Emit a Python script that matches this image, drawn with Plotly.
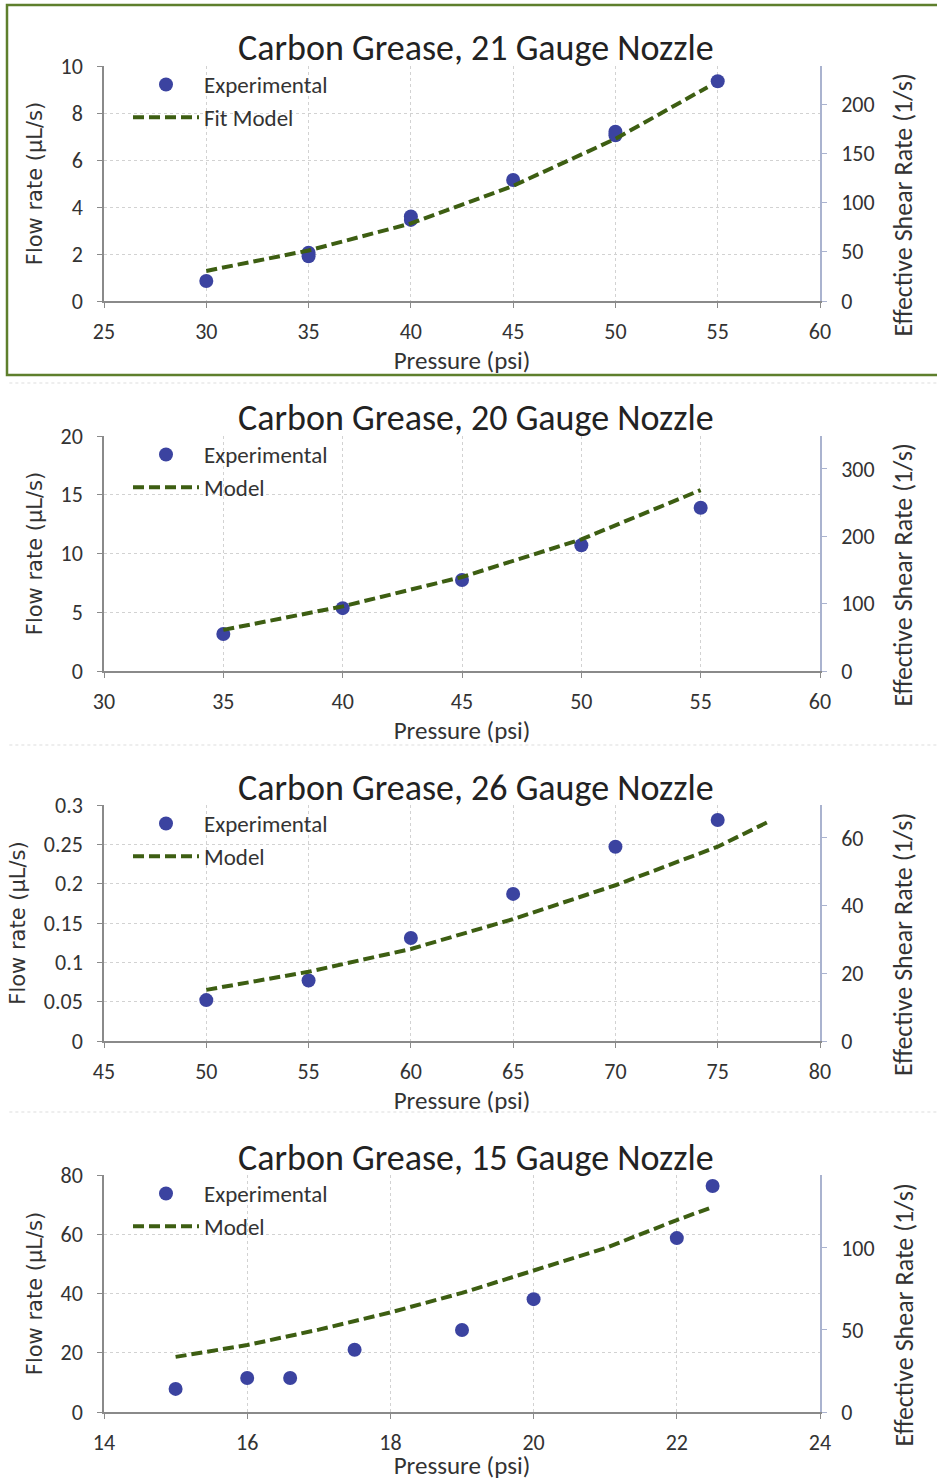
import plotly.graph_objects as go

# ---------------- data ----------------
titles = ["Carbon Grease, 21 Gauge Nozzle", "Carbon Grease, 20 Gauge Nozzle",
          "Carbon Grease, 26 Gauge Nozzle", "Carbon Grease, 15 Gauge Nozzle"]
model_names = ["Fit Model", "Model", "Model", "Model"]
right_title = "Effective Shear Rate (1/s)"

# Panel 1 (21 gauge)
p1_exp_x = [30, 35, 35, 40, 40, 45, 50, 50, 55]
p1_exp_y = [0.85, 2.05, 1.9, 3.6, 3.45, 5.15, 7.2, 7.05, 9.35]
p1_mod_x = [30, 35, 40, 45, 50, 54.5]
p1_mod_y = [1.28, 2.15, 3.3, 4.9, 6.9, 9.1]

# Panel 2 (20 gauge)
p2_exp_x = [35, 40, 45, 50, 55]
p2_exp_y = [3.15, 5.35, 7.75, 10.7, 13.9]
p2_mod_x = [35, 40, 45, 50, 55]
p2_mod_y = [3.5, 5.5, 8.0, 11.2, 15.4]

# Panel 3 (26 gauge)
p3_exp_x = [50, 55, 60, 65, 70, 75]
p3_exp_y = [0.052, 0.077, 0.131, 0.187, 0.247, 0.281]
p3_mod_x = [50, 55, 60, 65, 70, 75, 77.5]
p3_mod_y = [0.065, 0.088, 0.117, 0.155, 0.198, 0.247, 0.279]

# Panel 4 (15 gauge)
p4_exp_x = [15, 16, 16.6, 17.5, 19, 20, 22, 22.5]
p4_exp_y = [7.8, 11.5, 11.5, 21.0, 27.7, 38.1, 58.7, 76.3]
p4_mod_x = [15, 16, 17, 18, 19, 20, 21, 22, 22.5]
p4_mod_y = [18.6, 22.6, 27.8, 33.6, 40.2, 47.9, 55.3, 64.8, 69.2]

exp_x = [p1_exp_x, p2_exp_x, p3_exp_x, p4_exp_x]
exp_y = [p1_exp_y, p2_exp_y, p3_exp_y, p4_exp_y]
mod_x = [p1_mod_x, p2_mod_x, p3_mod_x, p4_mod_x]
mod_y = [p1_mod_y, p2_mod_y, p3_mod_y, p4_mod_y]

x_ranges = [[25, 60], [30, 60], [45, 80], [14, 24]]
x_dtick = [5, 5, 5, 2]
y_ranges = [[0, 10], [0, 20], [0, 0.3], [0, 80]]
y_ticks = [[0, 2, 4, 6, 8, 10], [0, 5, 10, 15, 20],
           [0, 0.05, 0.1, 0.15, 0.2, 0.25, 0.3], [0, 20, 40, 60, 80]]
y_ticktext = [["0", "2", "4", "6", "8", "10"], ["0", "5", "10", "15", "20"],
              ["0", "0.05", "0.1", "0.15", "0.2", "0.25", "0.3"], ["0", "20", "40", "60", "80"]]
y2_ranges = [[0, 238.6], [0, 349], [0, 69.75], [0, 144.5]]
y2_ticks = [[0, 50, 100, 150, 200], [0, 100, 200, 300], [0, 20, 40, 60], [0, 50, 100]]

# ---------------- style ----------------
W, H = 937, 1481
X0, X1 = 104, 820
panel_px = [(66, 301), (436, 671), (805, 1041), (1175, 1412)]
title_py = [48, 418, 788, 1158]

FONT = "Carlito, Calibri, Lato, sans-serif"
VFONT = "DejaVu Sans"
MARKER_C = "#3b43a0"
LINE_C = "#3d5e12"
GRID_C = "#d2d2d2"
AX_C = "#8a8a8a"
TXT_C = "#333333"

fig = go.Figure()
layout = dict(
    width=W, height=H, margin=dict(l=0, r=0, t=0, b=0, autoexpand=False),
    paper_bgcolor="white", plot_bgcolor="white",
    showlegend=True, annotations=[], shapes=[],
)

for i in range(4):
    n = i + 1
    xa = "x" if n == 1 else f"x{n}"
    ya = "y" if n == 1 else f"y{n}"
    y2 = f"y{n + 4}"
    leg = "legend" if n == 1 else f"legend{n}"
    top, bot = panel_px[i]
    dom_y = [1 - bot / H, 1 - top / H]

    fig.add_trace(go.Scatter(
        x=exp_x[i], y=exp_y[i], mode="markers", name="Experimental",
        marker=dict(color=MARKER_C, size=14), xaxis=xa, yaxis=ya, legend=leg))
    fig.add_trace(go.Scatter(
        x=mod_x[i], y=mod_y[i], mode="lines", name=model_names[i],
        line=dict(color=LINE_C, width=4, dash="11px,5px"), xaxis=xa, yaxis=ya, legend=leg))
    # helper trace so the right-hand (shear-rate) axis is drawn
    fig.add_trace(go.Scatter(x=[], y=[], mode="markers", showlegend=False,
                             hoverinfo="skip", xaxis=xa, yaxis=y2))

    xkey = "xaxis" if n == 1 else f"xaxis{n}"
    ykey = "yaxis" if n == 1 else f"yaxis{n}"
    layout[xkey] = dict(
        domain=[X0 / W, X1 / W], anchor=ya, range=x_ranges[i], dtick=x_dtick[i],
        tick0=x_ranges[i][0], automargin=False,
        showgrid=True, gridcolor=GRID_C, griddash="dot", gridwidth=1,
        showline=True, linecolor=AX_C, linewidth=1.5, zeroline=False,
        ticks="outside", ticklen=5, tickcolor=AX_C, ticklabelstandoff=5,
        tickfont=dict(family=FONT, size=22, color=TXT_C),
        title=dict(text="Pressure (psi)", font=dict(family=FONT, size=25, color=TXT_C), standoff=0),
    )
    layout[ykey] = dict(
        domain=dom_y, anchor=xa, range=y_ranges[i], tickvals=y_ticks[i], ticktext=y_ticktext[i],
        automargin=False,
        showgrid=True, gridcolor=GRID_C, griddash="dot", gridwidth=1,
        showline=True, linecolor=AX_C, linewidth=1.5, zeroline=False,
        ticks="outside", ticklen=5, tickcolor=AX_C, ticklabelstandoff=10,
        tickfont=dict(family=FONT, size=22, color=TXT_C),
        title=dict(text="Flow rate (µL/s)", font=dict(family=VFONT, size=21, color=TXT_C), standoff=12),
    )
    layout[f"yaxis{n + 4}"] = dict(
        overlaying=ya, anchor=xa, side="right", range=y2_ranges[i], tickvals=y2_ticks[i],
        automargin=False,
        showgrid=False, showline=True, linecolor="#aab3cf", linewidth=1.5, zeroline=False,
        ticks="outside", ticklen=5, tickcolor="#aab3cf", ticklabelstandoff=10,
        tickfont=dict(family=FONT, size=22, color=TXT_C),
    )
    layout[leg] = dict(
        x=128 / W, y=1 - (top - 3) / H, xanchor="left", yanchor="top",
        bgcolor="rgba(0,0,0,0)", font=dict(family=FONT, size=23, color=TXT_C),
        itemwidth=66, tracegroupgap=0,
    )
    layout["annotations"].append(dict(
        text=titles[i], x=476 / W, y=1 - title_py[i] / H, xref="paper", yref="paper",
        xanchor="center", yanchor="middle", showarrow=False,
        font=dict(family=FONT, size=36, color="#222222")))
    # right-hand axis title (sits a little below the panel centre, as in the original)
    layout["annotations"].append(dict(
        text=right_title, x=903 / W, y=1 - ((top + bot) / 2 + 22) / H, xref="paper", yref="paper",
        xanchor="center", yanchor="middle", textangle=-90, showarrow=False,
        font=dict(family=FONT, size=26, color=TXT_C)))

# green frame around the first panel
layout["shapes"].append(dict(type="rect", xref="paper", yref="paper",
                             x0=7 / W, x1=1.01, y0=1 - 375 / H, y1=1 - 5 / H,
                             line=dict(color="#5e7f2c", width=2.5)))
# faint separators between the other panels
for yy in [383, 745, 1112]:
    layout["shapes"].append(dict(type="line", xref="paper", yref="paper",
                                 x0=0.01, x1=1, y0=1 - yy / H, y1=1 - yy / H,
                                 line=dict(color="#dddddd", width=1, dash="dot")))

fig.update_layout(**layout)
fig.write_html("out.html", config={"displayModeBar": False},
               post_script="document.body.style.margin='0';")
